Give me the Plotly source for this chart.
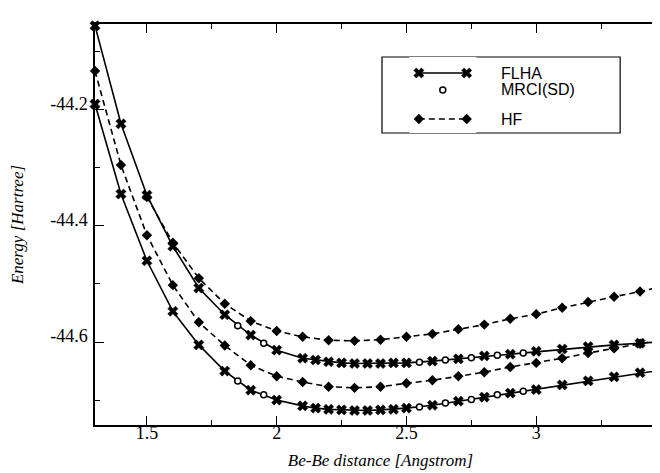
import plotly.graph_objects as go

# ---------------- data ----------------
flha_x = [1.3, 1.4, 1.5, 1.6, 1.7, 1.8, 1.9, 2.0, 2.1, 2.15, 2.2, 2.25, 2.3, 2.35,
          2.4, 2.45, 2.5, 2.6, 2.7, 2.8, 2.9, 3.0, 3.1, 3.2, 3.3, 3.4, 3.5]
flha_upper = [-44.055, -44.224, -44.347, -44.435, -44.507, -44.553, -44.588, -44.614,
              -44.628, -44.631, -44.634, -44.636, -44.637, -44.637, -44.637, -44.636,
              -44.636, -44.633, -44.629, -44.624, -44.621, -44.616, -44.612, -44.608,
              -44.605, -44.602, -44.599]
flha_lower = [-44.190, -44.345, -44.460, -44.547, -44.605, -44.650, -44.683, -44.700,
              -44.710, -44.714, -44.716, -44.717, -44.718, -44.718, -44.717, -44.716,
              -44.714, -44.709, -44.702, -44.695, -44.688, -44.682, -44.674, -44.667,
              -44.660, -44.653, -44.647]

mrci_x = [1.85, 1.95, 2.55, 2.65, 2.75, 2.85, 2.95]
mrci_upper = [-44.572, -44.602, -44.635, -44.631, -44.627, -44.623, -44.619]
mrci_lower = [-44.667, -44.691, -44.712, -44.705, -44.699, -44.691, -44.685]

hf_lower_x = [1.3, 1.4, 1.5, 1.6, 1.7, 1.8, 1.9, 2.0, 2.1, 2.2, 2.3, 2.4, 2.5, 2.6,
              2.7, 2.8, 2.9, 3.0, 3.1, 3.2, 3.3, 3.4, 3.5]
hf_lower = [-44.133, -44.295, -44.416, -44.502, -44.566, -44.606, -44.640, -44.659,
            -44.669, -44.677, -44.679, -44.677, -44.671, -44.666, -44.659, -44.652,
            -44.643, -44.636, -44.628, -44.619, -44.611, -44.603, -44.595]
hf_upper_x = [1.5, 1.6, 1.7, 1.8, 1.9, 2.0, 2.1, 2.2, 2.3, 2.4, 2.5, 2.6, 2.7, 2.8,
              2.9, 3.0, 3.1, 3.2, 3.3, 3.4, 3.5]
hf_upper = [-44.350, -44.429, -44.490, -44.534, -44.564, -44.581, -44.591, -44.597,
            -44.598, -44.596, -44.591, -44.586, -44.578, -44.570, -44.560, -44.552,
            -44.541, -44.531, -44.522, -44.513, -44.503]

x_tickvals = [1.5, 2.0, 2.5, 3.0]
x_ticktext = ["1.5", "2", "2.5", "3"]
y_tickvals = [-44.2, -44.4, -44.6]
y_ticktext = ["-44.2", "-44.4", "-44.6"]

legend_names = ["FLHA", "MRCI(SD)", "HF"]
legend_rows = [65, 82, 111]      # legend row positions (key axis units = page px)
key_ends = [0, 1]

# ---------------- styles ----------------
BLACK = "black"
LW = 1.6
serif = "Liberation Serif, Times New Roman, serif"
sans = "Liberation Sans, Arial, Helvetica, sans-serif"

W, H = 660, 473
ml, mr, mt, mb = 87, 0, 16, 56
pw, ph = W - ml - mr, H - mt - mb


def px_x(p):
    return (p - ml) / pw


def px_y(p):
    return (H - mb - p) / ph


fig = go.Figure()


def flha_trace(y, xa="x", ya="y", x=None):
    return go.Scatter(x=x if x is not None else flha_x, y=y, mode="lines+markers",
                      line=dict(color=BLACK, width=LW),
                      marker=dict(symbol="x", size=9, color=BLACK,
                                  line=dict(width=0.5, color=BLACK)),
                      xaxis=xa, yaxis=ya, showlegend=False, cliponaxis=False)


def hf_trace(x, y, xa="x", ya="y"):
    return go.Scatter(x=x, y=y, mode="lines+markers",
                      line=dict(color=BLACK, width=LW, dash="6px,4px"),
                      marker=dict(symbol="diamond", size=8, color=BLACK),
                      xaxis=xa, yaxis=ya, showlegend=False, cliponaxis=False)


def mrci_trace(x, y, xa="x", ya="y"):
    return go.Scatter(x=x, y=y, mode="markers",
                      marker=dict(symbol="circle", size=6, color="white",
                                  line=dict(width=1.5, color=BLACK)),
                      xaxis=xa, yaxis=ya, showlegend=False, cliponaxis=False)


fig.add_trace(hf_trace(hf_upper_x, hf_upper))
fig.add_trace(hf_trace(hf_lower_x, hf_lower))
fig.add_trace(flha_trace(flha_upper))
fig.add_trace(flha_trace(flha_lower))
fig.add_trace(mrci_trace(mrci_x, mrci_upper))
fig.add_trace(mrci_trace(mrci_x, mrci_lower))

# legend keys on a small hidden axis
fig.add_trace(flha_trace([legend_rows[0]] * 2, "x3", "y3", x=key_ends))
fig.add_trace(mrci_trace([0.5], [legend_rows[1]], "x3", "y3"))
fig.add_trace(hf_trace(key_ends, [legend_rows[2]] * 2, "x3", "y3"))

for name, row in zip(legend_names, legend_rows):
    fig.add_annotation(text=name, x=px_x(492), y=px_y(row), xref="paper", yref="paper",
                       xanchor="left", yanchor="middle", showarrow=False,
                       font=dict(family=sans, size=16, color=BLACK))

fig.add_shape(type="rect", xref="paper", yref="paper",
              x0=px_x(375), x1=px_x(614), y0=px_y(125), y1=px_y(49),
              line=dict(color=BLACK, width=1.2), fillcolor="rgba(0,0,0,0)", layer="below")

axis_common = dict(showline=True, linecolor=BLACK, linewidth=1.5, mirror="ticks",
                   ticks="inside", ticklen=9, tickwidth=1.3, tickcolor=BLACK,
                   showgrid=False, zeroline=False,
                   tickfont=dict(family=serif, size=18, color=BLACK))

key_l, key_r = 412, 460
unit = key_r - key_l

fig.update_layout(
    width=W, height=H,
    margin=dict(l=ml, r=mr, t=mt, b=mb),
    paper_bgcolor="white", plot_bgcolor="white",
    showlegend=False,
    xaxis=dict(range=[1.3, 3.5], tickvals=x_tickvals, ticktext=x_ticktext,
               minor=dict(ticks="inside", ticklen=5, tickcolor=BLACK, tickwidth=1.2,
                          dtick=0.25, tick0=1.25, showgrid=False),
               title=dict(text="<i>Be-Be distance [Angstrom]</i>", standoff=12,
                          font=dict(family=serif, size=17, color=BLACK)),
               ticklabelstandoff=-9,
               **axis_common),
    yaxis=dict(range=[-44.743, -44.052], tickvals=y_tickvals, ticktext=y_ticktext,
               minor=dict(ticks="inside", ticklen=5, tickcolor=BLACK, tickwidth=1.2,
                          dtick=0.1, tick0=-44.1, showgrid=False),
               title=dict(text="<i>Energy [Hartree]</i>", standoff=22,
                          font=dict(family=serif, size=17, color=BLACK)),
               ticklabelstandoff=2, ticklabelshift=-6,
               **axis_common),
    xaxis3=dict(domain=[px_x(key_l - 0.2 * unit), px_x(key_r + 0.2 * unit)],
                range=[-0.2, 1.2], visible=False, fixedrange=True, anchor="y3"),
    yaxis3=dict(domain=[px_y(125), px_y(49)], range=[125, 49], visible=False,
                fixedrange=True, anchor="x3"),
)

fig.write_html("out.html")
